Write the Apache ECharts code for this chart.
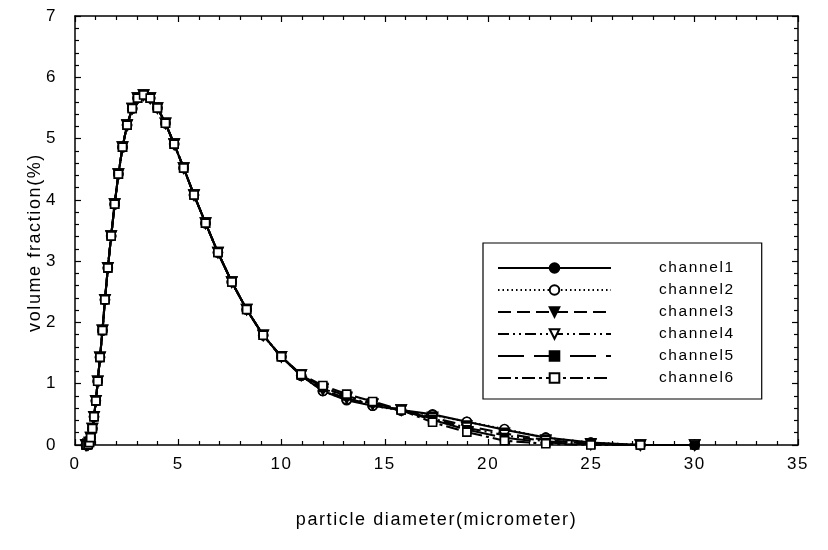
<!DOCTYPE html>
<html>
<head>
<meta charset="utf-8">
<script src="https://cdn.jsdelivr.net/npm/echarts@6/dist/echarts.min.js"></script>
<style>
html,body{margin:0;padding:0;background:#fff;}
#chart{width:828px;height:550px;}
</style>
</head>
<body>
<div id="chart"></div>
<script>
// emulate the wide letter spacing of the original export
(function(){
  var P = CanvasRenderingContext2D.prototype;
  var f = P.fillText, m = P.measureText;
  P.fillText = function(){ this.letterSpacing = '1.6px'; return f.apply(this, arguments); };
  P.measureText = function(){ this.letterSpacing = '1.6px'; return m.apply(this, arguments); };
})();

// particle diameter (micrometer) bins
var diameters = [0.53,0.58,0.64,0.70,0.76,0.84,0.92,1.01,1.10,1.21,1.33,1.45,1.59,1.75,1.92,2.10,2.30,2.52,2.77,3.03,3.32,3.64,3.99,4.38,4.80,5.26,5.76,6.32,6.92,7.59,8.31,9.11,9.99,10.95,12.00,13.15,14.41,15.79,17.31,18.97,20.79,22.79,24.97,27.37,30.00];

// shared part of the distribution (up to ~10 micrometer)
var common = [0.00,0.00,0.01,0.04,0.12,0.27,0.46,0.72,1.04,1.43,1.87,2.37,2.89,3.41,3.93,4.42,4.86,5.22,5.49,5.66,5.71,5.66,5.50,5.25,4.91,4.52,4.08,3.62,3.14,2.66,2.21,1.79,1.44];

// tails (10.95 .. 30 micrometer)
var tail1 = [1.13,0.88,0.73,0.64,0.57,0.50,0.38,0.25,0.12,0.04,0.00,0.00];
var tail2 = [1.13,0.88,0.74,0.64,0.56,0.49,0.38,0.26,0.12,0.04,0.00,0.00];
var tail3 = [1.14,0.90,0.76,0.66,0.57,0.45,0.31,0.19,0.08,0.02,0.00,0.00];
var tail4 = [1.14,0.92,0.78,0.67,0.57,0.43,0.28,0.16,0.06,0.01,0.00,0.00];
var tail5 = [1.14,0.94,0.80,0.69,0.57,0.41,0.25,0.12,0.04,0.01,0.00,0.00];
var tail6 = [1.15,0.97,0.83,0.71,0.57,0.37,0.21,0.07,0.02,0.00,0.00];

var names = ['channel1','channel2','channel3','channel4','channel5','channel6'];
var xTicks = [0,5,10,15,20,25,30,35];
var yTicks = [0,1,2,3,4,5,6,7];

function build(tail){
  var v = common.concat(tail);
  var out = [];
  for (var i = 0; i < v.length; i++) out.push([diameters[i], v[i]]);
  return out;
}
var tails = [tail1,tail2,tail3,tail4,tail5,tail6];

var FONT = 'Liberation Sans';
var triDown = 'path://M0,0 L10,0 L5,9 Z';
var styles = [
  {symbol:'circle', size:9, fill:'#000', dash:'solid'},
  {symbol:'circle', size:9, fill:'#fff', dash:[1.5,3]},
  {symbol:triDown, size:10, fill:'#000', dash:[13,6]},
  {symbol:triDown, size:10, fill:'#fff', dash:[11,4,2,4,2,4]},
  {symbol:'rect', size:8, fill:'#000', dash:[26,10]},
  {symbol:'rect', size:8, fill:'#fff', dash:[13,4,3,4]}
];

var series = names.map(function(n, i){
  var s = styles[i];
  return {
    name: n, type: 'line', data: build(tails[i]),
    symbol: s.symbol, symbolSize: s.size, showAllSymbol: true,
    lineStyle: {color:'#000', width:2.1, type: s.dash},
    itemStyle: {color: s.fill, borderColor:'#000', borderWidth:1.6},
    emphasis: {disabled:true}, animation:false
  };
});

function axisBase(){
  return {
    axisLine:{show:true, onZero:false, lineStyle:{color:'#000', width:1.5}},
    axisTick:{show:true, inside:true, length:6, lineStyle:{color:'#000', width:1.2}},
    minorTick:{show:true, splitNumber:5, length:4, lineStyle:{color:'#000', width:1.2}},
    splitLine:{show:false}
  };
}

var xMain = Object.assign(axisBase(), {
  type:'value', min:xTicks[0], max:xTicks[xTicks.length-1], interval:5, position:'bottom',
  name:'particle diameter(micrometer)', nameLocation:'middle', nameGap:65, nameMoveOverlap:false,
  nameTextStyle:{fontFamily:FONT, fontSize:18, color:'#000'},
  axisLabel:{fontFamily:FONT, fontSize:17, color:'#000', margin:10}
});
var xTop = Object.assign(axisBase(), {
  type:'value', min:xTicks[0], max:xTicks[xTicks.length-1], interval:5, position:'top',
  axisLabel:{show:false}
});
var yMain = Object.assign(axisBase(), {
  type:'value', min:yTicks[0], max:yTicks[yTicks.length-1], interval:1, position:'left',
  name:'volume fraction(%)', nameLocation:'middle', nameGap:30, nameMoveOverlap:false,
  nameTextStyle:{fontFamily:FONT, fontSize:18, color:'#000', padding:[0,0,0,-24]},
  axisLabel:{fontFamily:FONT, fontSize:17, color:'#000', margin:18}
});
var yRight = Object.assign(axisBase(), {
  type:'value', min:yTicks[0], max:yTicks[yTicks.length-1], interval:1, position:'right',
  axisLabel:{show:false}
});

var chart = echarts.init(document.getElementById('chart'), null, {renderer:'canvas'});
chart.setOption({
  animation:false,
  backgroundColor:'#fff',
  grid:{left:75, right:30, top:16, bottom:105, containLabel:false},
  xAxis:[xMain, xTop],
  yAxis:[yMain, yRight],
  legend:{
    show:true, orient:'vertical', left:483, top:243,
    data: names,
    itemWidth:113, itemHeight:12, itemGap:2,
    padding:[15,27,11,14],
    borderColor:'#000', borderWidth:1.2, backgroundColor:'#fff',
    textStyle:{fontFamily:FONT, fontSize:15.5, lineHeight:20, color:'#000', padding:[0,0,0,43]},
    selectedMode:false
  },
  series: series
});
</script>
</body>
</html>
